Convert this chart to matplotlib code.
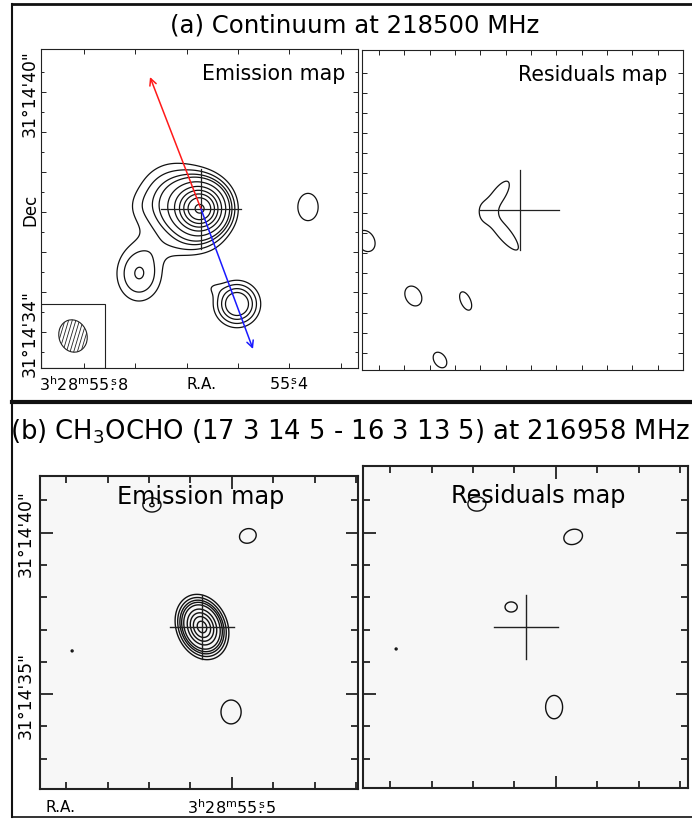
import numpy as np
import matplotlib
matplotlib.use('Agg')
import matplotlib.pyplot as plt
from matplotlib.patches import Ellipse, Rectangle
from matplotlib.lines import Line2D
from matplotlib.transforms import blended_transform_factory, offset_copy

plt.rcParams['font.family'] = ['DejaVu Sans']
plt.rcParams['mathtext.fontset'] = 'dejavusans'

# ---------------- data ----------------
RA0 = 55.572          # RA seconds of map centre (3h28m)
DEC0 = 37.08          # Dec arcsec of map centre (31d14')
ARCSEC_PER_S = 15 * np.cos(np.deg2rad(31.237))

title_a = "(a) Continuum at 218500 MHz"
title_b = r"(b) CH$_{\rm 3}$OCHO (17 3 14 5 - 16 3 13 5) at 216958 MHz"

# contour levels (arbitrary flux units)
levels_a = [1, 1.6, 2.3, 3, 4.5, 6.5, 8.5, 10.5, 12.5, 15]
levels_res = [1]
levels_b = [1, 1.6, 2.3, 3, 4, 6, 8, 10, 12]

# emission components: x_off("), y_off("), amplitude, sigma_1, sigma_2, angle(deg)
a_emis_src = [
    (0.00, 0.00, 14.0, 0.40, 0.40, 0),
    (0.70, 0.15, 3.0, 0.60, 0.65, 0),
    (0.30, -0.95, 0.7, 0.60, 0.25, 0),
    (1.60, 0.05, 0.3, 0.25, 0.30, 0),
    (1.55, -1.62, 2.35, 0.52, 0.42, 90),
    (-0.90, -2.375, 4.2, 0.35, 0.35, 0),
    (-0.25, -1.95, 0.6, 0.20, 0.15, 0),
    (-2.675, 0.05, 1.3, 0.47, 0.35, 90),
]
a_res_src = [
    (0.56, 0.34, 1.5, 0.50, 0.18, -55),
    (0.42, -0.56, 1.5, 0.62, 0.18, 50),
    (2.70, -2.15, 1.4, 0.32, 0.24, 60),
    (1.375, -2.275, 1.4, 0.30, 0.15, 65),
    (2.025, -3.75, 1.4, 0.26, 0.18, 55),
    (3.90, -0.775, 1.4, 0.34, 0.26, 60),
    (3.625, -4.08, 1.2, 0.12, 0.10, 0),
]
b_emis_src = [
    (0.00, 0.00, 13.0, 0.46, 0.35, 68),
    (-1.42, 2.82, 1.4, 0.32, 0.27, -20),
    (-0.90, -2.63, 1.4, 0.45, 0.38, 90),
    (1.55, 3.78, 1.65, 0.28, 0.22, 0),
    (4.02, -0.74, 1.05, 0.10, 0.10, 0),
]
b_res_src = [
    (0.46, 0.62, 1.4, 0.23, 0.19, 0),
    (-1.46, 2.79, 1.4, 0.36, 0.28, -20),
    (-0.87, -2.48, 1.4, 0.44, 0.32, 90),
    (1.52, 3.81, 1.4, 0.34, 0.27, 0),
    (4.02, -0.68, 1.05, 0.10, 0.10, 0),
]

ra_ticks_a = [55.8, 55.7, 55.6, 55.5, 55.4, 55.3]
ra_ticks_a_res = [55.85, 55.8, 55.75, 55.7, 55.65, 55.6, 55.55, 55.5, 55.45, 55.4, 55.35, 55.3, 55.25]
dec_ticks_a = [34, 35, 36, 37, 38, 39, 40]
dec_minor_a = [33.5, 34.5, 35.5, 36.5, 37.5, 38.5, 39.5, 40.5]
ra_ticks_b = [55.5]
ra_minor_b = [55.9, 55.8, 55.7, 55.6, 55.4, 55.3, 55.2]
dec_ticks_b = [35, 40]
dec_minor_b = [33, 34, 36, 37, 38, 39, 41]

ra_labels_a = {55.8: r"3$^{\rm h}$28$^{\rm m}$55$\overset{\rm s}{.}$8", 55.4: r"55$\overset{\rm s}{.}$4"}
dec_labels_a = {40: "31°14'40\"", 34: "31°14'34\""}
ra_labels_b = {55.5: r"3$^{\rm h}$28$^{\rm m}$55$\overset{\rm s}{.}$5"}
dec_labels_b = {40: "31°14'40\"", 35: "31°14'35\""}

cross_half = 1.0
red_arrow_tip = (1.275, 3.3)
blue_arrow_tip = (-1.30, -3.5)
beam = dict(x=3.2, y=-3.175, major=0.82, minor=0.70, angle=72)
beam_box = (2.4, -3.975, 1.6, 1.6)

# ---------------- helpers ----------------
W, H = 692, 820
fig = plt.figure(figsize=(W / 100, H / 100), dpi=100)


def add_ax(x0, y0, x1, y1):
    return fig.add_axes([x0 / W, 1 - y1 / H, (x1 - x0) / W, (y1 - y0) / H])


def ra_x(ra):
    return (ra - RA0) * ARCSEC_PER_S


def dec_y(d):
    return d - DEC0


def field(X, Y, src):
    Z = np.zeros_like(X)
    for (x0, y0, a, s1, s2, ang) in src:
        t = np.deg2rad(ang)
        u = (X - x0) * np.cos(t) + (Y - y0) * np.sin(t)
        v = -(X - x0) * np.sin(t) + (Y - y0) * np.cos(t)
        Z += a * np.exp(-0.5 * ((u / s1) ** 2 + (v / s2) ** 2))
    return Z


def ftext(x, y, s, **kw):
    fig.text(x / W, 1 - y / H, s, ha='center', va='center', **kw)


def setup(ax, xlim, ylim, xt, yt, xm, ym, lw, tl, tlm, tw, face):
    ax.set_xlim(*xlim)
    ax.set_ylim(*ylim)
    ax.set_facecolor(face)
    ax.set_xticks([ra_x(v) for v in xt])
    ax.set_yticks([dec_y(v) for v in yt])
    ax.set_xticks([ra_x(v) for v in xm], minor=True)
    ax.set_yticks([dec_y(v) for v in ym], minor=True)
    ax.set_xticklabels([])
    ax.set_yticklabels([])
    ax.tick_params(which='major', direction='in', top=True, right=True, length=tl, width=tw, color='#222')
    ax.tick_params(which='minor', direction='in', top=True, right=True, length=tlm, width=tw, color='#222')
    for sp in ax.spines.values():
        sp.set_linewidth(lw)
        sp.set_color('#222')


def draw_map(ax, src, levels, lw):
    x0, x1 = ax.get_xlim()
    y0, y1 = ax.get_ylim()
    xs = np.linspace(min(x0, x1) - 0.3, max(x0, x1) + 0.3, 700)
    ys = np.linspace(min(y0, y1) - 0.3, max(y0, y1) + 0.3, 700)
    X, Y = np.meshgrid(xs, ys)
    ax.contour(X, Y, field(X, Y, src), levels=levels, colors='#111', linewidths=lw)


def cross(ax, lw):
    ax.plot([cross_half, -cross_half], [0, 0], color='#222', lw=lw)
    ax.plot([0, 0], [cross_half, -cross_half], color='#222', lw=lw)


def xlabel_at(ax, x, s, dy, fs):
    tr = offset_copy(blended_transform_factory(ax.transData, ax.transAxes), fig=fig, y=-dy, units='dots')
    ax.text(x, 0, s, transform=tr, ha='center', va='center', fontsize=fs, clip_on=False)


def ylabel_at(ax, y, s, dx, fs):
    tr = offset_copy(blended_transform_factory(ax.transAxes, ax.transData), fig=fig, x=-dx, units='dots')
    ax.text(0, y, s, transform=tr, ha='center', va='center', rotation=90, fontsize=fs, clip_on=False)


# ---------------- panel (a) ----------------
ax1 = add_ax(41, 50, 358, 369)
setup(ax1, (4.0, -3.925), (-3.975, 4.0), ra_ticks_a, dec_ticks_a, [], dec_minor_a,
      0.8, 3.5, 2.5, 0.7, 'white')
draw_map(ax1, a_emis_src, levels_a, 0.9)
cross(ax1, 0.9)
ax1.annotate('', xy=red_arrow_tip, xytext=(0, 0),
             arrowprops=dict(arrowstyle='->', color='#ff1a1a', lw=1.1, mutation_scale=12, shrinkA=0, shrinkB=0))
ax1.annotate('', xy=blue_arrow_tip, xytext=(0, 0),
             arrowprops=dict(arrowstyle='->', color='#1a1aff', lw=1.1, mutation_scale=12, shrinkA=0, shrinkB=0))
ax1.add_patch(Rectangle(beam_box[:2], beam_box[2], beam_box[3], fill=False, ec='#222', lw=0.8))
ell = Ellipse((beam['x'], beam['y']), beam['major'], beam['minor'], angle=beam['angle'],
              fill=False, ec='#222', lw=0.8)
ax1.add_patch(ell)
for t in np.linspace(-0.5, 0.5, 12):
    ln, = ax1.plot([beam['x'] + t + 0.18, beam['x'] + t - 0.18], [beam['y'] - 0.6, beam['y'] + 0.6],
                   color='#222', lw=0.6)
    ln.set_clip_path(ell)
for v, s in ra_labels_a.items():
    xlabel_at(ax1, ra_x(v), s, 16, 11.5)
xlabel_at(ax1, -0.02, "R.A.", 16, 11)
for v, s in dec_labels_a.items():
    ylabel_at(ax1, dec_y(v), s, 11, 12.4)
ylabel_at(ax1, 0.0, "Dec", 11, 12)
ax1.text(0.735, 0.925, "Emission map", transform=ax1.transAxes, ha='center', va='center', fontsize=14.8)

ax2 = add_ax(362, 51, 683, 371)
setup(ax2, (4.0, -4.025), (-4.0, 4.0), ra_ticks_a_res, dec_ticks_a, [], dec_minor_a,
      0.8, 3.5, 3.5, 0.7, 'white')
draw_map(ax2, a_res_src, levels_res, 0.9)
cross(ax2, 0.9)
ax2.text(0.72, 0.925, "Residuals map", transform=ax2.transAxes, ha='center', va='center', fontsize=14.8)

# ---------------- panel (b) ----------------
ax3 = add_ax(40, 477, 358, 790)
setup(ax3, (5.015, -4.83), (-5.015, 4.675), ra_ticks_b, dec_ticks_b, ra_minor_b, dec_minor_b,
      1.5, 9, 5, 1.3, '#f7f7f7')
draw_map(ax3, b_emis_src, levels_b, 1.0)
cross(ax3, 1.0)
for v, s in ra_labels_b.items():
    xlabel_at(ax3, ra_x(v), s, 18, 11.5)
ax3.text(0.063, 0, "R.A.", transform=offset_copy(ax3.transAxes, fig=fig, y=-18, units='dots'),
         ha='center', va='center', fontsize=11)
for v, s in dec_labels_b.items():
    ylabel_at(ax3, dec_y(v), s, 14, 12.4)
ax3.text(0.505, 0.935, "Emission map", transform=ax3.transAxes, ha='center', va='center', fontsize=17.3)

ax4 = add_ax(363, 467, 688, 789)
setup(ax4, (5.046, -5.015), (-4.985, 4.985), ra_ticks_b, dec_ticks_b, ra_minor_b, dec_minor_b,
      1.5, 9, 5, 1.3, '#f7f7f7')
draw_map(ax4, b_res_src, levels_res, 1.0)
cross(ax4, 1.0)
ax4.text(0.54, 0.91, "Residuals map", transform=ax4.transAxes, ha='center', va='center', fontsize=17.3)

# ---------------- titles and frame ----------------
ftext(355, 26, title_a, fontsize=17.6)
ftext(350, 432, title_b, fontsize=18.6)

for xs, ys, lw in [([12, 692], [5, 5], 2.0), ([12, 12], [5, 818], 1.5), ([12, 692], [818, 818], 1.2),
                   ([12, 692], [403, 403], 3.0)]:
    fig.add_artist(Line2D([x / W for x in xs], [1 - y / H for y in ys], color='#111', lw=lw,
                          transform=fig.transFigure))

fig.savefig('out.png', dpi=100)
